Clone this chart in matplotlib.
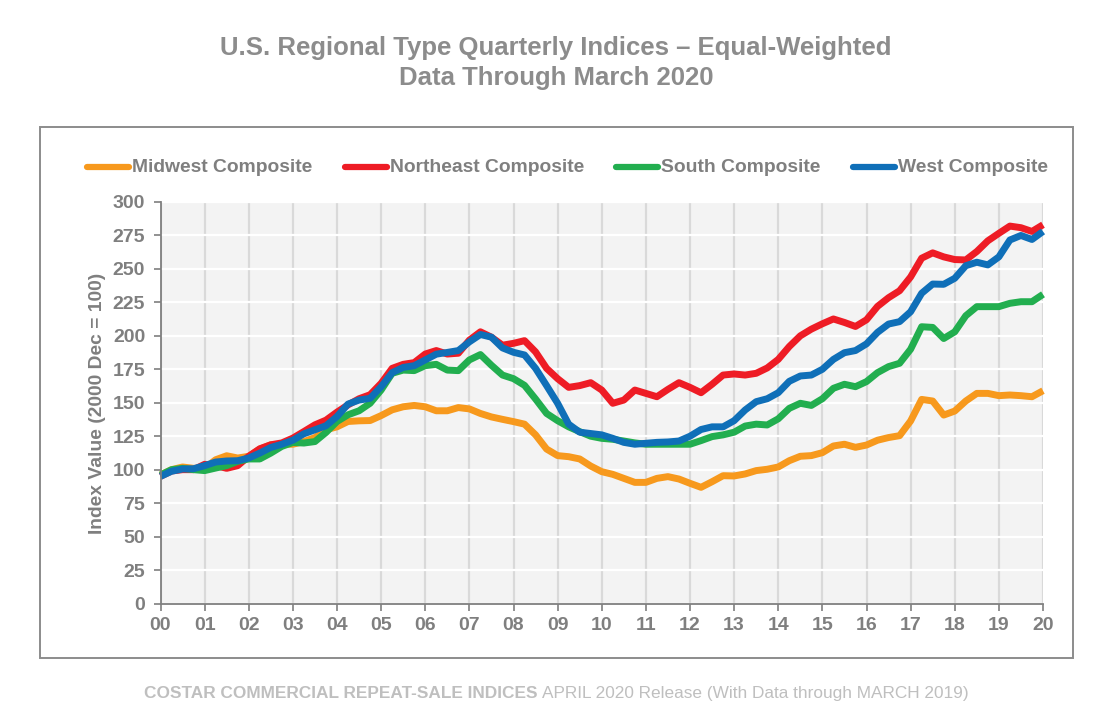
import numpy as np
import matplotlib
matplotlib.use("Agg")
import matplotlib.pyplot as plt
from matplotlib.lines import Line2D
from matplotlib.patches import Rectangle

W, H = 1116, 727
GREY = "#7F7F7F"

plt.rcParams["font.family"] = ["Liberation Sans", "DejaVu Sans"]

# quarterly index values, Dec 2000 = 100
midwest = [96, 100, 102, 101, 101, 107.4, 110.4, 108.7, 110, 115.4, 118.6, 119, 119, 121, 124, 129.8,
           132, 136, 136.5, 136.7, 140.4, 144.7, 147, 148, 147, 144, 144, 146.4, 145.4, 142, 139.4, 137.6,
           135.9, 134, 126, 115.4, 110.5, 109.7, 108, 102.7, 98.5, 96.5, 93.5, 90.5, 90.5, 93.5, 94.8, 93,
           89.8, 86.8, 91, 95.5, 95.3, 96.8, 99.3, 100.3, 102, 106.7, 110, 110.5, 112.7, 117.7, 119, 116.7,
           118.4, 122, 124, 125.4, 136.4, 152.5, 151.3, 140.8, 143.8, 151.3, 157, 157, 155.3, 155.8, 155.3, 154.5, 159]
northeast = [95, 99, 100, 100, 104, 103, 101, 103, 110, 115.6, 118.6, 120, 123.6, 128.5, 133.5, 137,
             143, 148.4, 153, 156, 164.5, 175.7, 178.7, 180, 186.4, 189, 186.4, 187, 196.8, 203, 199, 193,
             194.4, 196.4, 188, 175.7, 168, 161.5, 162.8, 165, 159.5, 149.6, 152, 159.5, 157, 154.5, 160, 165,
             161.5, 157.5, 163.8, 170.7, 171.5, 170.7, 172, 176, 182.4, 192, 200, 205, 209, 212.6, 210, 207,
             212, 222, 228.5, 233.7, 244, 258, 262, 259, 257, 256.7, 263, 271, 276.6, 282, 280.8, 278, 283]
south = [96, 100, 101, 100, 99.3, 101.2, 103, 106.2, 108, 108, 112.4, 117.4, 120.3, 119.9, 121, 127.8,
         136, 141, 144, 149.6, 159.5, 172, 174.4, 174, 177.7, 178.7, 174.4, 174, 182, 186, 178, 170.7,
         168, 163, 152.8, 142, 136.6, 132, 128.4, 125, 123.4, 122.7, 121.4, 120, 119, 119, 119, 119,
         119, 121.7, 124.7, 126, 128, 132.6, 134, 133.4, 138, 145.8, 149.6, 148, 153, 160.8, 163.8, 162,
         165.8, 172.5, 177, 179.5, 190, 206.8, 206.3, 198, 203, 215, 221.8, 221.8, 221.8, 224.3, 225.5, 225.5, 231]
west = [95, 98.8, 100.5, 100.7, 103, 105.7, 106.5, 106.7, 108.7, 112.4, 116.6, 119, 122, 126.8, 129.8, 132.8,
        139.7, 149, 152, 153.3, 162, 172.5, 176.4, 177.7, 182, 186.3, 187.6, 189, 195.5, 201, 199, 191,
        187.7, 185.7, 175.7, 162.8, 149.6, 134, 128, 127, 126, 123.4, 120.4, 119, 119.7, 120.4, 120.7, 121.4,
        125, 130, 132, 132, 136.6, 144.6, 150.8, 153, 157.5, 166, 170, 170.7, 175, 182.4, 187.4, 189,
        194, 202.6, 208.8, 210.6, 218, 231.8, 238.7, 238.5, 243, 252.4, 255, 253, 259, 271.6, 275, 272, 278]

series_names = ["Midwest Composite", "Northeast Composite", "South Composite", "West Composite"]
series_colors = ["#F7991D", "#EE1C25", "#22AE4F", "#0F6FB8"]
year_labels = ["%02d" % y for y in range(21)]
y_ticks = list(range(0, 301, 25))


def px_x(x):
    return x / W


def px_y(y):
    return 1 - y / H


fig = plt.figure(figsize=(W / 100, H / 100), dpi=100, facecolor="white")

# grey frame around chart area, has to stay behind the axes
fig.add_artist(Rectangle((px_x(40), px_y(658)), 1033 / W, 531 / H, transform=fig.transFigure,
                         facecolor="white", edgecolor="#8C8C8C", linewidth=1.4, zorder=-1))

fig.text(0.498, px_y(48.5), "U.S. Regional Type Quarterly Indices \u2013 Equal-Weighted", fontsize=18.5,
         fontweight="bold", color="#8C8C8C", ha="center", va="center")
fig.text(0.498, px_y(77.5), "Data Through March 2020", fontsize=18.5,
         fontweight="bold", color="#8C8C8C", ha="center", va="center")

ax = fig.add_axes([px_x(160.5), px_y(603.5), 882.5 / W, 401.5 / H])
ax.set_facecolor("#F3F3F3")
ax.set_xlim(0, 20)
ax.set_ylim(0, 300)
ax.set_xticks(range(21))
ax.set_xticklabels(year_labels)
ax.set_yticks(y_ticks)
ax.grid(axis="y", color="white", linewidth=1.6)
ax.grid(axis="x", color="#D9D9D9", linewidth=1.6)
ax.set_axisbelow(True)
for side in ["top", "right"]:
    ax.spines[side].set_visible(False)
for side in ["left", "bottom"]:
    ax.spines[side].set_color(GREY)
    ax.spines[side].set_linewidth(1.3)
ax.tick_params(axis="x", color=GREY, width=1.2, length=5, labelsize=14, labelcolor=GREY, pad=5)
ax.tick_params(axis="y", color=GREY, width=1.2, length=5, labelsize=14, labelcolor=GREY, pad=6)
for lab in ax.get_xticklabels() + ax.get_yticklabels():
    lab.set_fontweight("bold")
ax.set_ylabel("Index Value (2000 Dec = 100)", fontsize=13.9, fontweight="bold", color=GREY)
ax.yaxis.set_label_coords((106 - 160.5) / 882.5, (603.5 - 403) / 401.5)

t = np.arange(81) / 4
for vals, color in zip([midwest, northeast, south, west], series_colors):
    ax.plot(t, vals, color=color, linewidth=5, solid_joinstyle="round", solid_capstyle="butt", clip_on=False)

# legend laid out by hand, handles sit tight against their labels
legend_starts = [84, 342, 613, 850]
for name, color, x0 in zip(series_names, series_colors, legend_starts):
    fig.add_artist(Line2D([px_x(x0 + 3), px_x(x0 + 45)], [px_y(167), px_y(167)], transform=fig.transFigure,
                          color=color, linewidth=4.5, solid_capstyle="round"))
    fig.text(px_x(x0 + 48), px_y(167.5), name, fontsize=13.85, fontweight="bold", color=GREY,
             ha="left", va="center")

footer = fig.text(px_x(144), px_y(693.5), "COSTAR COMMERCIAL REPEAT-SALE INDICES", fontsize=12.4,
                  fontweight="bold", color="#BFBFBF", ha="left", va="center")
fig.canvas.draw()
bb = footer.get_window_extent()
fig.text((bb.x1 + 4) / W, px_y(693.5), "APRIL 2020 Release (With Data through MARCH 2019)", fontsize=12.4,
         color="#BFBFBF", ha="left", va="center")

fig.savefig("out.png", dpi=100, facecolor="white")
plt.close(fig)
